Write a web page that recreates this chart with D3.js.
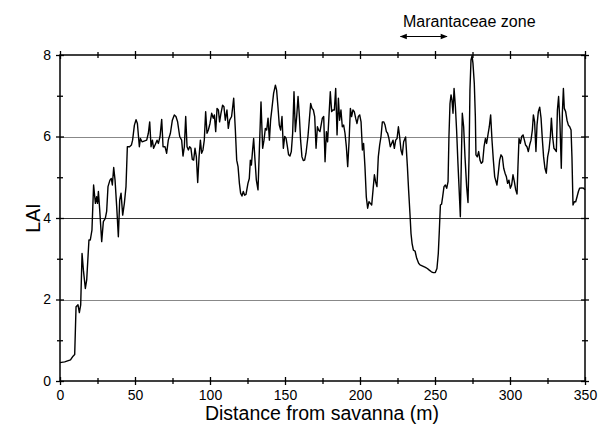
<!DOCTYPE html>
<html>
<head>
<meta charset="utf-8">
<script src="https://cdn.jsdelivr.net/npm/d3@7"></script>
<style>
  body { margin: 0; background: #fff; }
  svg { display: block; font-family: Arial, "Liberation Sans", sans-serif; }
</style>
</head>
<body>
<svg></svg>
<script>
const width = 604;
const height = 430;
const margin = {top: 55, right: 19, bottom: 49, left: 60};

// transect position (m) and LAI
const distance = [
  0, 3.1, 7, 8.7, 9.8, 10.7, 12, 12.9, 13.8, 14.7, 15.6, 16.9, 17.8, 19.3, 20.2, 21.3, 22.4, 23.6, 24.4, 25,
  25.6, 26.4, 27.8, 28.9, 30.2, 31.1, 32, 33.3, 34.2, 34.9, 35.8, 36.7, 37.8, 38.9, 39.8, 40.7, 41.8, 42.9, 44, 44.9,
  46.4, 47.6, 48.4, 49.6, 50.7, 51.6, 52.9, 53.6, 54.7, 56.9, 57.8, 58.9, 59.8, 60.7, 61.6, 62.4, 63.8, 64.7, 65.6, 66.7,
  67.8, 68.7, 70, 71.1, 72.2, 73.6, 74.9, 76.2, 77.3, 78.4, 79.8, 81.1, 82, 82.9, 83.8, 84.7, 85.6, 86.4, 87.3, 88.2,
  89.1, 90, 90.9, 91.8, 92.7, 93.6, 94.4, 95.3, 96.2, 97.1, 98, 98.9, 100, 101.1, 102.2, 102.9, 103.8, 104.7, 105.6, 106.4,
  107.3, 108.4, 109.3, 110.2, 111.3, 112.2, 113.1, 114.4, 115.8, 116.9, 117.8, 118.7, 119.6, 120.4, 121.3, 122.2, 123.1, 124, 125.3, 126.2,
  126.9, 127.6, 128.4, 129.1, 130, 130.9, 132, 132.9, 134, 135.1, 136, 136.9, 137.8, 138.7, 139.6, 140.4, 141.3, 142.4, 143.6, 144.4,
  145.3, 146.2, 147.1, 148, 148.9, 149.8, 150.7, 151.6, 152.4, 153.3, 154.2, 155.1, 156, 156.9, 157.8, 158.7, 159.6, 160.4, 161.3, 162.2,
  163.1, 164, 165.3, 166.2, 167.1, 168, 168.9, 169.8, 170.7, 171.6, 172.4, 173.3, 174.9, 175.8, 176.7, 177.6, 178.4, 179.3, 180.2, 181.1,
  182, 182.9, 183.8, 184.7, 185.6, 186.4, 187.3, 188.2, 189.1, 190, 190.9, 191.8, 192.7, 193.6, 194.4, 195.3, 196.2, 197.1, 198, 198.9,
  199.8, 200.7, 201.6, 202.4, 203.3, 204.2, 205.1, 206, 206.9, 207.8, 208.7, 209.6, 210.4, 211.3, 212.2, 213.1, 214, 214.9, 215.8, 216.7,
  217.6, 218.4, 219.3, 220.2, 221.1, 222, 222.9, 223.8, 224.7, 225.6, 226.4, 227.3, 228.2, 229.1, 230.4, 231.6, 232.4, 233.3, 234, 234.7,
  235.6, 236.7, 237.8, 239.1, 240, 241.8, 243.6, 244.9, 246.2, 247.6, 248.9, 250.2, 251.3, 252.2, 252.9, 253.6, 254.4, 255.1, 256, 256.9,
  257.8, 258.7, 259.3, 260, 260.7, 261.3, 262, 262.7, 263.6, 264.4, 265.3, 266.2, 266.9, 267.6, 268.2, 269.1, 270, 271.1, 272, 272.7,
  273.3, 274, 274.7, 275.3, 276.2, 276.9, 277.3, 278.2, 279.1, 280, 280.9, 281.8, 282.7, 283.6, 284.4, 285.3, 286.2, 287.1, 288, 288.9,
  289.8, 291.3, 292.2, 293.1, 294, 294.9, 295.8, 296.7, 297.6, 298.4, 299.3, 300.2, 301.1, 302, 302.9, 303.8, 304.7, 305.3, 306, 306.9,
  307.8, 308.7, 309.6, 310.4, 311.3, 312.2, 313.1, 314, 314.9, 315.6, 316.4, 317.3, 318, 318.9, 319.8, 320.7, 321.6, 322.4, 323.3, 324.2,
  325.1, 326, 326.9, 327.6, 328.4, 329.3, 330.2, 330.9, 331.6, 332.4, 333.3, 334.2, 334.9, 335.6, 336.2, 337.1, 338, 338.9, 339.8, 340.7,
  341.3, 342, 342.9, 343.8, 344.7, 345.6, 346.4, 347.8, 349.1, 350
];
const lai = [
  0.45, 0.47, 0.52, 0.61, 0.65, 1.82, 1.87, 1.68, 1.87, 3.13, 2.72, 2.27, 2.48, 3.46, 3.46, 3.7, 4.81, 4.36, 4.52, 4.36,
  4.65, 4.24, 3.42, 3.91, 3.99, 4.16, 4.77, 4.93, 4.97, 4.81, 5.24, 4.93, 4.28, 3.54, 4.44, 4.61, 4.07, 4.36, 4.77, 5.75,
  5.75, 5.79, 5.91, 6.28, 6.41, 6.32, 5.75, 5.95, 5.87, 5.9, 5.91, 6.08, 6.36, 5.75, 5.91, 5.71, 5.83, 5.91, 5.83, 6.0,
  6.42, 5.75, 5.75, 5.59, 5.91, 6.08, 6.4, 6.53, 6.49, 6.36, 6.0, 5.91, 5.52, 5.75, 6.49, 5.75, 5.67, 5.75, 5.71, 5.44,
  5.42, 5.71, 5.5, 4.87, 5.5, 5.91, 5.59, 5.67, 5.91, 6.61, 6.08, 6.16, 6.32, 6.57, 6.45, 6.53, 6.12, 6.69, 6.65, 6.36,
  6.57, 6.77, 6.73, 6.4, 6.65, 6.2, 6.4, 6.49, 6.94, 6.16, 5.42, 5.26, 4.85, 4.61, 4.54, 4.65, 4.56, 4.58, 4.85, 4.97,
  5.42, 5.3, 5.67, 5.95, 5.42, 4.93, 4.69, 5.67, 6.85, 5.71, 5.91, 6.2, 6.16, 6.45, 5.91, 6.4, 6.69, 7.06, 7.26, 7.14,
  6.73, 6.28, 6.16, 6.49, 5.71, 6.0, 5.96, 5.75, 5.55, 5.52, 5.63, 6.08, 7.1, 6.12, 6.49, 6.98, 6.49, 5.91, 5.5, 5.41,
  5.42, 5.59, 6.0, 6.4, 6.81, 6.69, 6.65, 6.49, 5.71, 6.24, 6.16, 6.12, 6.45, 6.49, 5.38, 6.12, 5.87, 6.49, 7.1, 6.61,
  6.65, 6.65, 7.18, 6.04, 6.94, 6.4, 6.65, 6.24, 6.28, 6.08, 5.75, 5.26, 5.87, 6.69, 6.49, 6.65, 6.61, 6.45, 6.32, 6.49,
  6.53, 6.36, 5.67, 5.83, 5.26, 4.52, 4.24, 4.4, 4.36, 4.32, 4.69, 5.06, 4.89, 4.77, 5.5, 5.79, 6.0, 6.36, 6.36, 6.28,
  6.12, 6.08, 5.95, 5.75, 5.83, 5.91, 5.71, 5.91, 5.95, 6.24, 6.0, 5.67, 5.55, 5.87, 5.99, 5.26, 4.69, 4.11, 3.62, 3.38,
  3.21, 3.19, 3.01, 2.89, 2.85, 2.82, 2.79, 2.76, 2.72, 2.68, 2.66, 2.66, 2.76, 3.13, 3.7, 4.32, 4.34, 4.52, 4.77, 4.81,
  4.73, 4.89, 6.0, 6.81, 7.02, 6.9, 6.57, 7.18, 6.73, 6.16, 5.34, 4.61, 4.03, 5.5, 6.57, 6.24, 5.5, 4.77, 4.38, 5.5,
  7.14, 7.88, 7.98, 7.8, 7.3, 6.49, 5.55, 5.5, 5.63, 5.42, 5.34, 5.38, 5.75, 5.95, 5.83, 6.04, 6.24, 6.53, 5.91, 5.42,
  5.01, 4.81, 5.1, 5.42, 5.55, 5.5, 5.22, 5.1, 5.01, 4.85, 4.93, 4.73, 4.81, 5.06, 4.89, 4.69, 4.59, 5.26, 5.95, 5.83,
  6.0, 6.04, 5.91, 5.79, 5.75, 5.63, 5.79, 5.91, 6.16, 6.53, 6.36, 5.63, 6.28, 6.61, 6.72, 6.45, 5.91, 5.5, 5.22, 5.1,
  5.5, 5.67, 6.0, 6.45, 6.0, 5.71, 5.67, 5.63, 6.65, 6.98, 6.32, 5.22, 6.57, 7.18, 6.69, 6.61, 6.4, 6.28, 6.24, 6.16,
  5.5, 4.32, 4.4, 4.4, 4.52, 4.65, 4.73, 4.74, 4.73, 4.69
];

const xMajor = [0, 50, 100, 150, 200, 250, 300, 350];
const xMinor = [25, 75, 125, 175, 225, 275, 325];
const yMajor = [0, 2, 4, 6, 8];
const yMinor = [1, 3, 5, 7];
const gridValues = [2, 4, 6];
const zoneRange = [227, 258]; // Marantaceae zone arrow, in metres

const data = distance.map((d, i) => ({x: d, y: lai[i]}));

const innerW = width - margin.left - margin.right;
const innerH = height - margin.top - margin.bottom;

let svg = d3.select('svg').attr('width', width).attr('height', height);
let g = svg.append('g').attr('transform', `translate(${margin.left},${margin.top})`);

const x = d3.scaleLinear().domain([0, 350]).range([0, innerW]);
const y = d3.scaleLinear().domain([0, 8]).range([innerH, 0]);

// horizontal reference lines
g.selectAll('.grid')
  .data(gridValues)
  .enter().append('line')
  .attr('x1', 0).attr('x2', innerW)
  .attr('y1', d => Math.round(y(d)) + 0.5)
  .attr('y2', d => Math.round(y(d)) + 0.5)
  .attr('stroke', d => d == 4 ? '#333' : '#888')
  .attr('stroke-width', 1);

// the LAI trace
g.append('path')
  .datum(data)
  .attr('fill', 'none')
  .attr('stroke', '#000')
  .attr('stroke-width', 1.4)
  .attr('stroke-linejoin', 'round')
  .attr('d', d3.line().x(d => x(d.x)).y(d => y(d.y)));

// frame
g.append('rect')
  .attr('width', innerW).attr('height', innerH)
  .attr('fill', 'none').attr('stroke', '#000').attr('stroke-width', 1.5);

// axes: ticks cross the frame on all four sides
let addAxis = (axisFn, scale, values, size, labelled, transform, dim) => {
  let ax = g.append('g')
    .attr('transform', transform)
    .call(axisFn(scale).tickValues(values).tickSize(size).tickPadding(5)
          .tickFormat(labelled ? d3.format('d') : ''));
  ax.select('.domain').remove();
  ax.selectAll('.tick line')
    .attr('stroke', '#000').attr('stroke-width', 1.3)
    .attr(dim + '1', -size).attr(dim + '2', size);
  ax.selectAll('.tick text')
    .attr('fill', '#000').style('font-size', '14px')
    .style('font-family', 'Arial, "Liberation Sans", sans-serif');
  return ax;
};

addAxis(d3.axisBottom, x, xMajor, 4, true, `translate(0,${innerH})`, 'y');
addAxis(d3.axisBottom, x, xMinor, 3, false, `translate(0,${innerH})`, 'y');
addAxis(d3.axisTop, x, xMajor, 4, false, 'translate(0,0)', 'y');
addAxis(d3.axisTop, x, xMinor, 3, false, 'translate(0,0)', 'y');
addAxis(d3.axisLeft, y, yMajor, 4, true, 'translate(0,0)', 'x');
addAxis(d3.axisLeft, y, yMinor, 3, false, 'translate(0,0)', 'x');
addAxis(d3.axisRight, y, yMajor, 4, false, `translate(${innerW},0)`, 'x');
addAxis(d3.axisRight, y, yMinor, 3, false, `translate(${innerW},0)`, 'x');

// axis titles
svg.append('text')
  .attr('x', margin.left + innerW / 2 - 0.5)
  .attr('y', 420)
  .attr('text-anchor', 'middle')
  .style('font-size', '19.5px')
  .text('Distance from savanna (m)');

svg.append('text')
  .attr('transform', `translate(40,${margin.top + innerH / 2}) rotate(-90)`)
  .attr('text-anchor', 'middle')
  .style('font-size', '19.5px')
  .text('LAI');

// Marantaceae zone annotation
svg.append('defs').append('marker')
  .attr('id', 'head')
  .attr('viewBox', '0 0 10 10')
  .attr('refX', 9).attr('refY', 5)
  .attr('markerWidth', 9).attr('markerHeight', 7)
  .attr('markerUnits', 'userSpaceOnUse')
  .attr('orient', 'auto-start-reverse')
  .append('path').attr('d', 'M0,1 L10,5 L0,9 Z').attr('fill', '#000');

svg.append('line')
  .attr('x1', margin.left + x(zoneRange[0]))
  .attr('x2', margin.left + x(zoneRange[1]))
  .attr('y1', 36.5).attr('y2', 36.5)
  .attr('stroke', '#000').attr('stroke-width', 1.2)
  .attr('marker-start', 'url(#head)')
  .attr('marker-end', 'url(#head)');

svg.append('text')
  .attr('x', 403)
  .attr('y', 27)
  .style('font-size', '16px')
  .text('Marantaceae zone');
</script>
</body>
</html>
